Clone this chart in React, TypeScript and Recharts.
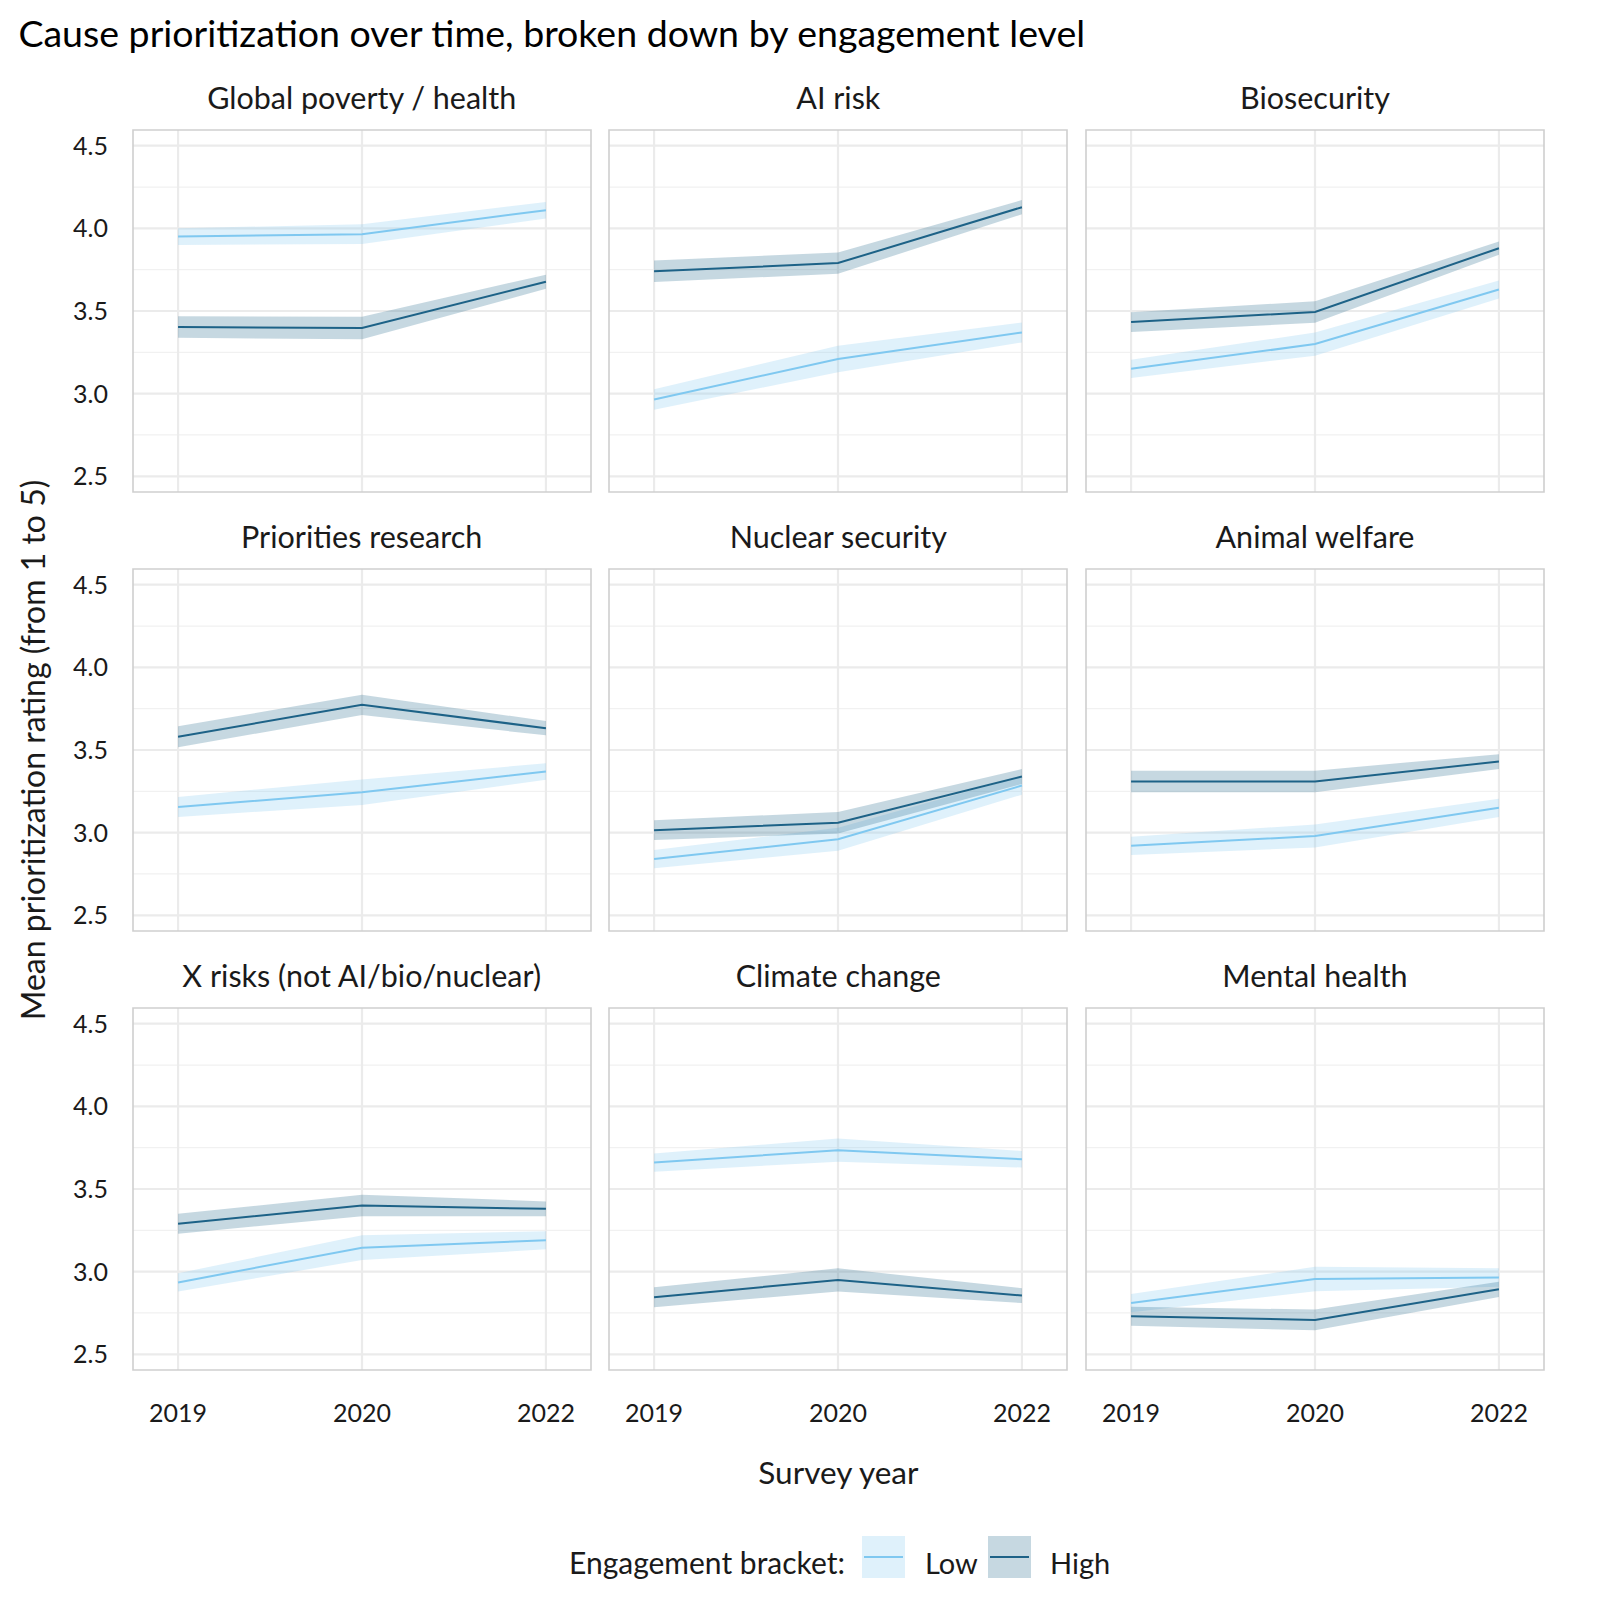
import React from 'react';
import { ComposedChart, Line, Area, XAxis, YAxis, CartesianGrid, ReferenceArea } from 'recharts';

const YEARS = ['2019', '2020', '2022'];

const CAUSES = [
  'Global poverty / health',
  'AI risk',
  'Biosecurity',
  'Priorities research',
  'Nuclear security',
  'Animal welfare',
  'X risks (not AI/bio/nuclear)',
  'Climate change',
  'Mental health',
];

// mean rating per year (2019, 2020, 2022)
const LOW_MEAN = [
  [3.95, 3.965, 4.11],
  [2.965, 3.21, 3.37],
  [3.15, 3.3, 3.63],
  [3.155, 3.245, 3.37],
  [2.84, 2.96, 3.285],
  [2.92, 2.98, 3.15],
  [2.935, 3.145, 3.19],
  [3.66, 3.735, 3.68],
  [2.81, 2.955, 2.965],
];
const LOW_CI = [
  [0.05, 0.06, 0.05],
  [0.062, 0.08, 0.06],
  [0.055, 0.07, 0.055],
  [0.06, 0.077, 0.05],
  [0.055, 0.07, 0.055],
  [0.055, 0.07, 0.055],
  [0.055, 0.075, 0.055],
  [0.055, 0.07, 0.05],
  [0.055, 0.074, 0.056],
];
const HIGH_MEAN = [
  [3.403, 3.397, 3.677],
  [3.74, 3.79, 4.128],
  [3.433, 3.494, 3.88],
  [3.58, 3.773, 3.632],
  [3.015, 3.06, 3.34],
  [3.31, 3.31, 3.43],
  [3.29, 3.4, 3.38],
  [2.845, 2.95, 2.855],
  [2.73, 2.708, 2.893],
];
const HIGH_CI = [
  [0.065, 0.068, 0.043],
  [0.065, 0.064, 0.043],
  [0.06, 0.065, 0.04],
  [0.063, 0.062, 0.043],
  [0.06, 0.065, 0.045],
  [0.065, 0.065, 0.045],
  [0.06, 0.065, 0.045],
  [0.06, 0.07, 0.045],
  [0.057, 0.063, 0.046],
];

const Y_TICKS = [2.5, 3, 3.5, 4, 4.5];
const Y_MINOR = [2.75, 3.25, 3.75, 4.25];
const X_DOMAIN: [number, number] = [-0.245, 2.245];
const Y_DOMAIN: [number, number] = [2.405, 4.595];

const LOW_COLOR = '#7fc8f0';
const HIGH_COLOR = '#1d6287';
const FONT = 'Lato, "Open Sans", sans-serif';
const TEXT = '#1a1a1a';

const COL_LEFT = [132.7, 609.3, 1086];
const ROW_TOP = [130, 569, 1008];
const PW = 458;
const PH = 362;
const M = 2;
const Y_AXIS_W = 120;
const X_AXIS_H = 60;

function panelData(i: number) {
  return YEARS.map((_, j) => ({
    x: j,
    low: LOW_MEAN[i][j],
    lowBand: [LOW_MEAN[i][j] - LOW_CI[i][j], LOW_MEAN[i][j] + LOW_CI[i][j]],
    high: HIGH_MEAN[i][j],
    highBand: [HIGH_MEAN[i][j] - HIGH_CI[i][j], HIGH_MEAN[i][j] + HIGH_CI[i][j]],
  }));
}

function Panel({ i }: { i: number }) {
  const row = Math.floor(i / 3);
  const col = i % 3;
  const showY = col === 0;
  const showX = row === 2;
  const yw = showY ? Y_AXIS_W : 0;
  const xh = showX ? X_AXIS_H : 0;
  const left = COL_LEFT[col] - M - yw;
  const top = ROW_TOP[row] - M;

  return (
    <div style={{ position: 'absolute', left, top }}>
      <ComposedChart
        width={PW + 2 * M + yw}
        height={PH + 2 * M + xh}
        data={panelData(i)}
        margin={{ top: M, right: M, bottom: M, left: M }}
      >
        <CartesianGrid horizontalValues={Y_MINOR} vertical={false} stroke="#f1f1f1" strokeWidth={1.3} />
        <CartesianGrid horizontalValues={Y_TICKS} verticalValues={[0, 1, 2]} stroke="#ebebeb" strokeWidth={2.2} />
        <XAxis
          type="number"
          dataKey="x"
          domain={X_DOMAIN}
          allowDataOverflow
          ticks={[0, 1, 2]}
          tickFormatter={(v: number) => YEARS[v]}
          hide={!showX}
          height={X_AXIS_H}
          axisLine={false}
          tickLine={false}
          tickSize={0}
          tickMargin={34}
          tick={{ fontSize: 25, fill: TEXT, fontFamily: FONT }}
        />
        <YAxis
          type="number"
          domain={Y_DOMAIN}
          allowDataOverflow
          ticks={Y_TICKS}
          tickFormatter={(v: number) => v.toFixed(1)}
          hide={!showY}
          width={Y_AXIS_W}
          axisLine={false}
          tickLine={false}
          tickSize={0}
          tickMargin={25}
          tick={{ fontSize: 25, fill: TEXT, fontFamily: FONT }}
        />
        <Area type="linear" dataKey="lowBand" stroke="none" fill={LOW_COLOR} fillOpacity={0.25} isAnimationActive={false} />
        <Area type="linear" dataKey="highBand" stroke="none" fill={HIGH_COLOR} fillOpacity={0.25} isAnimationActive={false} />
        <Line type="linear" dataKey="low" stroke={LOW_COLOR} strokeWidth={2} dot={false} isAnimationActive={false} />
        <Line type="linear" dataKey="high" stroke={HIGH_COLOR} strokeWidth={2} dot={false} isAnimationActive={false} />
        <ReferenceArea
          x1={X_DOMAIN[0]}
          x2={X_DOMAIN[1]}
          y1={Y_DOMAIN[0]}
          y2={Y_DOMAIN[1]}
          fill="none"
          stroke="#cfcfcf"
          strokeWidth={1.6}
          ifOverflow="visible"
        />
      </ComposedChart>
    </div>
  );
}

function Overlay() {
  return (
    <svg width={1600} height={1600} style={{ position: 'absolute', left: 0, top: 0 }} fontFamily={FONT}>
      <text x={18.4} y={47} fontSize={37.5} fill="#000">
        Cause prioritization over time, broken down by engagement level
      </text>
      {CAUSES.map((c, i) => (
        <text
          key={c}
          x={COL_LEFT[i % 3] + PW / 2}
          y={ROW_TOP[Math.floor(i / 3)] - 21}
          fontSize={30.5}
          fill={TEXT}
          textAnchor="middle"
        >
          {c}
        </text>
      ))}
      <text x={838.4} y={1484} fontSize={31.5} fill={TEXT} textAnchor="middle">
        Survey year
      </text>
      <text x={45} y={750} fontSize={32} fill={TEXT} textAnchor="middle" transform="rotate(-90 45 750)">
        Mean prioritization rating (from 1 to 5)
      </text>
      <text x={569} y={1574} fontSize={30} fill={TEXT}>
        Engagement bracket:
      </text>
      <rect x={862} y={1536} width={43} height={42} fill={LOW_COLOR} fillOpacity={0.25} />
      <line x1={864} x2={903} y1={1557} y2={1557} stroke={LOW_COLOR} strokeWidth={2} />
      <text x={925} y={1574} fontSize={29} fill={TEXT}>
        Low
      </text>
      <rect x={988} y={1536} width={43} height={42} fill={HIGH_COLOR} fillOpacity={0.25} />
      <line x1={990} x2={1029} y1={1557} y2={1557} stroke={HIGH_COLOR} strokeWidth={2} />
      <text x={1050} y={1574} fontSize={29} fill={TEXT}>
        High
      </text>
    </svg>
  );
}

export default function App() {
  return (
    <div style={{ position: 'absolute', left: 0, top: 0, width: 1600, height: 1600, background: '#fff' }}>
      <Overlay />
      {CAUSES.map((c, i) => (
        <Panel key={c} i={i} />
      ))}
    </div>
  );
}
